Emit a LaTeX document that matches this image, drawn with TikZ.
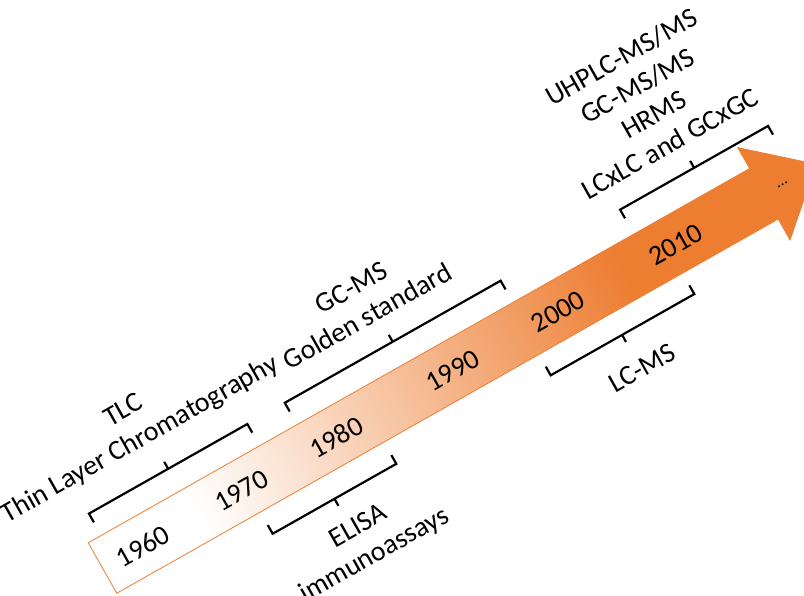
\documentclass[tikz,border=0pt]{standalone}
\usepackage{fontspec}
\setmainfont{Carlito}
\definecolor{acc}{RGB}{237,125,49}
\pgfdeclarehorizontalshading{arrowshade}{100bp}{color(0bp)=(white); color(31.7bp)=(white); color(61.6bp)=(acc); color(100bp)=(acc)}
\begin{document}
\begin{tikzpicture}[x=1pt,y=1pt,
  brk/.style={draw=black, line width=2.2pt, line cap=butt, line join=miter},
  lbl/.style={font=\fontsize{28}{33}\selectfont, align=center, inner sep=0pt, rotate=29.5},
  yr/.style={font=\fontsize{28}{33}\selectfont, inner sep=0pt, rotate=29.5},
  dots/.style={font=\fontsize{16}{18}\selectfont, inner sep=0pt, rotate=29.5}]
\clip (0,-595) rectangle (804,0);
\fill[white] (0,-595) rectangle (804,0);
\begin{scope}[transform canvas={shift={(102.5pt,-568pt)},rotate=29.5}]
  % arrow body with gradient
  \shade[shading=arrowshade, draw=acc, line width=0.8pt]
    (0,-29) -- (760,-29) -- (760,-53) -- (820,0) -- (760,53) -- (760,29) -- (0,29) -- cycle;
\end{scope}
\begin{scope}[shift={(102.5,-568)}, rotate=29.5]
  % years
  \node[yr] (y1960) at (46,-1) {1960};
  \node[yr] (y1970) at (159,-1) {1970};
  \node[yr] (y1980) at (268,-1) {1980};
  \node[yr] (y1990) at (402,-1) {1990};
  \node[yr] (y2000) at (523,-1) {2000};
  \node[yr] (y2010) at (658,-1) {2010};
  \node[dots] (ydots) at (781,-1) {...};
  % brackets above
  \draw[brk] (15,44) -- (15,54) -- (197,54) -- (197,44);
  \draw[brk] (106,54) -- (106,62);
  \draw[brk] (240,44) -- (240,54) -- (488,54) -- (488,44);
  \draw[brk] (364,54) -- (364,62);
  \draw[brk] (627,47) -- (627,57) -- (797,57) -- (797,47);
  \draw[brk] (712,57) -- (712,65);
  % brackets below
  \draw[brk] (165,-44) -- (165,-54) -- (307,-54) -- (307,-44);
  \draw[brk] (236,-54) -- (236,-62);
  \draw[brk] (485,-43) -- (485,-53) -- (650,-53) -- (650,-43);
  \draw[brk] (567,-53) -- (567,-61);
  % labels
  \node[lbl] (tlc) at (96,109) {TLC\\Thin Layer Chromatography};
  \node[lbl] (gcms) at (354.5,105) {GC-MS\\Golden standard};
  \node[lbl] (uhplc) at (703,140) {UHPLC-MS/MS\\GC-MS/MS\\HRMS\\LCxLC and GCxGC};
  \node[lbl] (elisa) at (243,-107) {ELISA\\immunoassays};
  \node[lbl] (lcms) at (568,-91.5) {LC-MS};
\end{scope}
\end{tikzpicture}
\end{document}
